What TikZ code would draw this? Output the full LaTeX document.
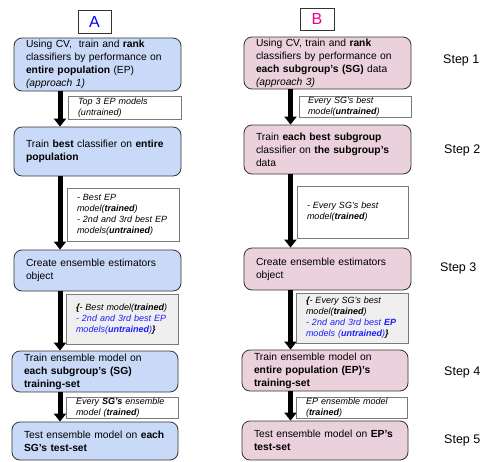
\documentclass[tikz,border=0pt]{standalone}
\usepackage{fontspec}
\setmainfont{Liberation Sans}
\usetikzlibrary{arrows.meta,calc}
\definecolor{boxblue}{HTML}{C9DAF8}
\definecolor{boxpink}{HTML}{EAD1DC}
\definecolor{notegray}{HTML}{EFEFEF}
\definecolor{linedark}{HTML}{333333}
\definecolor{noteline}{HTML}{7A7A7A}
\definecolor{noteblue}{HTML}{1C1CFF}
\begin{document}
\begin{tikzpicture}[x=1pt,y=-1pt,
  mainbox/.style={draw=linedark, line width=0.8pt, rounded corners=8pt,
    inner xsep=12pt, inner ysep=0pt, text width=#1, align=left,
    font=\fontsize{10.3}{13}\selectfont},
  bluebox/.style={mainbox=#1, fill=boxblue},
  pinkbox/.style={mainbox=#1, fill=boxpink},
  notebox/.style={draw=noteline, line width=0.6pt, fill=white,
    inner xsep=10pt, inner ysep=0pt, text width=#1, align=left,
    font=\fontsize{9}{11}\selectfont\itshape},
  graynote/.style={notebox=#1, fill=notegray},
  titlebox/.style={draw=linedark, line width=0.7pt, inner sep=0pt,
    font=\fontsize{16}{16}\selectfont},
  steplabel/.style={anchor=west, inner sep=0pt, font=\fontsize{12.5}{14}\selectfont},
  bigarrow/.style={line width=5pt, -{Triangle[width=12pt,length=8pt]}}
]
\useasboundingbox (0,0) rectangle (485,461);

% titles
\node[titlebox, minimum width=33pt, minimum height=23pt, text=blue] (ta) at (94.5,21.5) {A};
\node[titlebox, minimum width=34pt, minimum height=22pt, text=magenta] (tb) at (317,19) {B};

% column A
\node[bluebox=143pt, minimum height=53pt] (a1) at (97.5,64.5)
  {\mbox{Using CV,~ train and \textbf{rank}}\\\mbox{classifiers by performance on}\\\mbox{\textbf{entire population} (EP)}\\\textit{(approach 1)}};
\node[bluebox=143pt, minimum height=49pt] (a2) at (97.5,151.5)
  {\mbox{Train \textbf{best} classifier on \textbf{entire}}\\\textbf{population}};
\node[bluebox=143pt, minimum height=41pt] (a3) at (97.5,270.5)
  {Create ensemble estimators\\object};
\node[bluebox=142pt, minimum height=41pt] (a4) at (95,371.5)
  {Train ensemble model on\\\mbox{\textbf{each subgroup's (SG)}}\\\textbf{training-set}};
\node[bluebox=142pt, minimum height=38pt] (a5) at (95,441)
  {\mbox{Test ensemble model on \textbf{each}}\\\textbf{SG's test-set}};

% column B
\node[pinkbox=143pt, minimum height=52pt] (b1) at (327.5,63)
  {\mbox{Using CV, train and \textbf{rank}}\\\mbox{classifiers by performance on}\\\mbox{\textbf{each subgroup's (SG)} data}\\\textit{(approach 3)}};
\node[pinkbox=143pt, minimum height=49pt] (b2) at (327.5,149.5)
  {\mbox{Train \textbf{each best subgroup}}\\\mbox{classifier on \textbf{the subgroup's}}\\data};
\node[pinkbox=143pt, minimum height=42pt] (b3) at (327.5,269)
  {Create ensemble estimators\\object};
\node[pinkbox=142pt, minimum height=41pt] (b4) at (325,370.5)
  {Train ensemble model on\\\mbox{\textbf{entire population (EP)'s}}\\\textbf{training-set}};
\node[pinkbox=142pt, minimum height=39pt] (b5) at (325,440.5)
  {\mbox{Test ensemble model on \textbf{EP's}}\\\textbf{test-set}};

% arrow columns
\coordinate (xa) at (60,0);
\coordinate (xb) at (290.5,0);
\draw[bigarrow] (a1.south -| xa) -- (a2.north -| xa);
\draw[bigarrow] (a2.south -| xa) -- (a3.north -| xa);
\draw[bigarrow] (a3.south -| xa) -- (a4.north -| xa);
\draw[bigarrow] (a4.south -| xa) -- (a5.north -| xa);
\draw[bigarrow] (b1.south -| xb) -- (b2.north -| xb);
\draw[bigarrow] (b2.south -| xb) -- (b3.north -| xb);
\draw[bigarrow] (b3.south -| xb) -- (b4.north -| xb);
\draw[bigarrow] (b4.south -| xb) -- (b5.north -| xb);

% notes A
\node[notebox=93pt, minimum height=23pt] (na1) at (124.5,107.5)
  {Top 3 EP models\\(untrained)};
\node[notebox=92pt, minimum height=53pt] (na2) at (123,214.5)
  {- Best EP\\model(\textbf{trained})\\\mbox{- 2nd and 3rd best EP}\\models(\textbf{untrained})};
\node[graynote=92pt, minimum height=50pt] (na3) at (122,319)
  {\mbox{\textbf{\{}- Best model(\textbf{trained})}\\{\color{noteblue}\mbox{- 2nd and 3rd best EP}\\models(\textbf{untrained})}\textbf{\}}};
\node[notebox=92pt, minimum height=21pt] (na4) at (122,407.5)
  {\mbox{Every \textbf{SG's} ensemble}\\model (\textbf{trained})};

% notes B
\node[notebox=94pt, inner xsep=9pt, minimum height=21pt] (nb1) at (355,106.5)
  {Every SG's best\\model(\textbf{untrained})};
\node[notebox=91pt, minimum height=52pt] (nb2) at (352.5,212)
  {- Every SG's best\\model(\textbf{trained})};
\node[graynote=92pt, minimum height=50pt] (nb3) at (352,318)
  {\textbf{\{}- Every SG's best\\model(\textbf{trained})\\{\color{noteblue}\mbox{- 2nd and 3rd best \textbf{EP}}\\\mbox{models (\textbf{untrained})}}\textbf{\}}};
\node[notebox=91pt, minimum height=21pt] (nb4) at (351.5,407.5)
  {EP ensemble model\\(\textbf{trained})};

% step labels
\node[steplabel] (s1) at (443,60) {Step 1};
\node[steplabel] (s2) at (444,150) {Step 2};
\node[steplabel] (s3) at (440,268) {Step 3};
\node[steplabel] (s4) at (444,372) {Step 4};
\node[steplabel] (s5) at (444,440) {Step 5};
\end{tikzpicture}
\end{document}
